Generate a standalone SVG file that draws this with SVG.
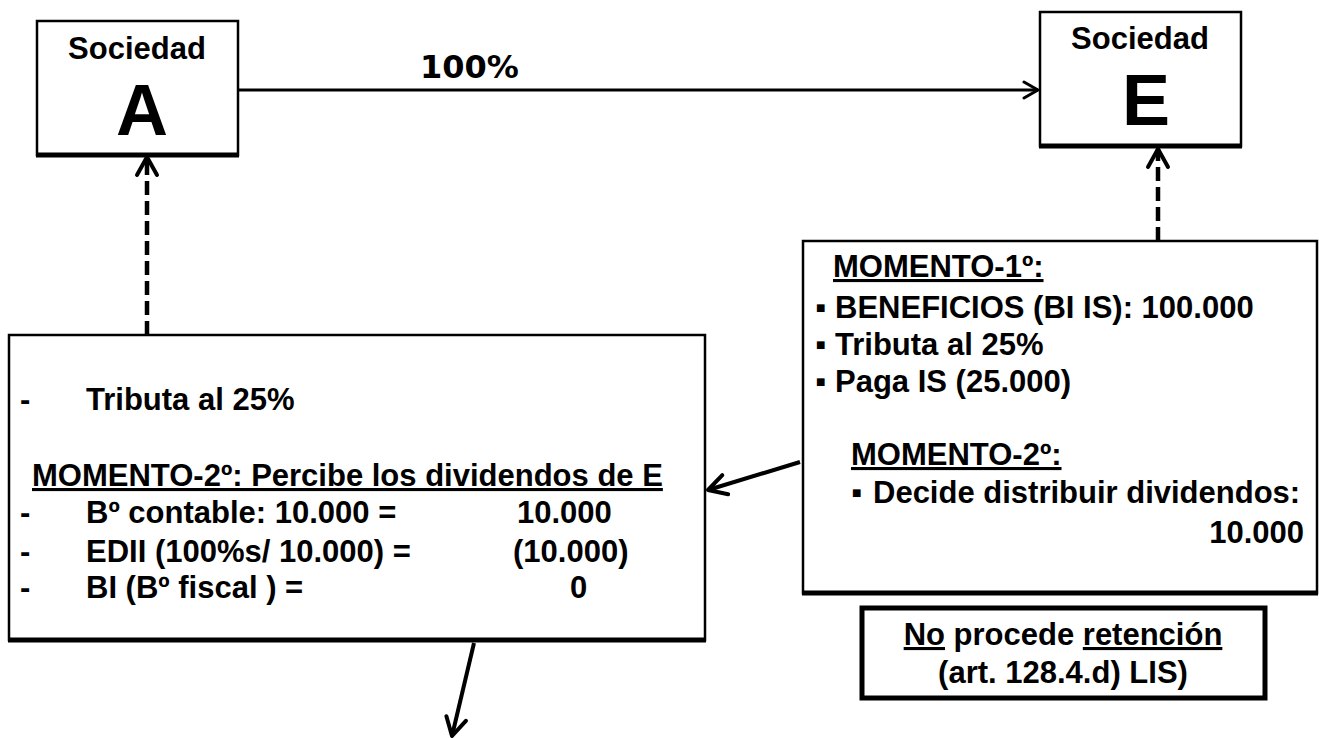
<svg xmlns="http://www.w3.org/2000/svg" width="1319" height="738" viewBox="0 0 1319 738">
<style>
  .box { fill: #fff; stroke: #000; stroke-width: 2.5; }
  .shadow { stroke: #000; stroke-width: 5; }
  .t { font-family: "Liberation Sans", Arial, sans-serif; font-weight: bold; font-size: 31px; fill: #000; }
  .big { font-family: "Liberation Sans", Arial, sans-serif; font-weight: bold; font-size: 72px; fill: #000; }
  .pct { font-family: "DejaVu Sans", Verdana, sans-serif; font-weight: bold; font-size: 32px; fill: #000; }
  .u { text-decoration: underline; }
  .solid { stroke: #000; fill: none; stroke-width: 3; }
  .thick { stroke: #000; fill: none; stroke-width: 4; }
  .dash { stroke: #000; fill: none; stroke-width: 4.5; stroke-dasharray: 14 6; }
</style>
<defs>
  <marker id="chev" markerUnits="userSpaceOnUse" viewBox="0 0 20 20" refX="17" refY="10" markerWidth="20" markerHeight="20" orient="auto">
    <path d="M3,2 L17,10 L3,18" fill="none" stroke="#000" stroke-width="3" stroke-linecap="round" stroke-linejoin="round"/>
  </marker>
  <marker id="chevL" markerUnits="userSpaceOnUse" viewBox="0 0 26 26" refX="22" refY="13" markerWidth="26" markerHeight="26" orient="auto">
    <path d="M4,3 L22,13 L4,23" fill="none" stroke="#000" stroke-width="4" stroke-linecap="round" stroke-linejoin="round"/>
  </marker>
</defs>

<g id="connectors">
  <line class="solid" x1="232" y1="90" x2="1038" y2="90" marker-end="url(#chev)"/>
  <line class="dash" x1="147" y1="335" x2="147" y2="157" marker-end="url(#chevL)"/>
  <line class="dash" x1="1158" y1="241" x2="1158" y2="149" marker-end="url(#chevL)"/>
  <line class="thick" x1="800" y1="462" x2="708" y2="490" marker-end="url(#chevL)"/>
  <line class="thick" x1="474" y1="643" x2="452" y2="736" marker-end="url(#chevL)"/>
  <text class="pct" x="420" y="78">100%</text>
</g>

<g id="nodeA">
  <rect class="box" x="37" y="21" width="201" height="134"/>
  <line class="shadow" x1="36" y1="155" x2="239" y2="155"/>
  <text class="t" x="137" y="59" text-anchor="middle">Sociedad</text>
  <text class="big" x="142" y="135" text-anchor="middle">A</text>
</g>

<g id="nodeE">
  <rect class="box" x="1040" y="12" width="201" height="134"/>
  <line class="shadow" x1="1039" y1="146" x2="1242" y2="146"/>
  <text class="t" x="1140" y="49" text-anchor="middle">Sociedad</text>
  <text class="big" x="1146" y="125" text-anchor="middle">E</text>
</g>

<g id="nodeRight">
  <rect class="box" x="803" y="241" width="514" height="352"/>
  <line class="shadow" x1="802" y1="593" x2="1318" y2="593"/>
  <text class="t u" x="833" y="277">MOMENTO-1º:</text>
  <text class="t" y="318"><tspan x="815">▪</tspan><tspan x="835">BENEFICIOS (BI IS): 100.000</tspan></text>
  <text class="t" y="355"><tspan x="815">▪</tspan><tspan x="835">Tributa al 25%</tspan></text>
  <text class="t" y="392"><tspan x="815">▪</tspan><tspan x="835">Paga IS (25.000)</tspan></text>
  <text class="t u" x="851" y="465">MOMENTO-2º:</text>
  <text class="t" y="503"><tspan x="851">▪</tspan><tspan x="873">Decide distribuir dividendos:</tspan></text>
  <text class="t" x="1304" y="543" text-anchor="end">10.000</text>
</g>

<g id="nodeLeft">
  <rect class="box" x="9" y="335" width="696" height="305"/>
  <line class="shadow" x1="8" y1="640" x2="706" y2="640"/>
  <text class="t" x="20" y="410">-</text>
  <text class="t" x="86" y="410">Tributa al 25%</text>
  <text class="t u" x="32" y="486">MOMENTO-2º: Percibe los dividendos de E</text>
  <text class="t" x="20" y="523">-</text>
  <text class="t" x="86" y="523">Bº contable: 10.000 =</text>
  <text class="t" x="517" y="523">10.000</text>
  <text class="t" x="20" y="562">-</text>
  <text class="t" x="86" y="562">EDII (100%s/ 10.000) =</text>
  <text class="t" x="513" y="562">(10.000)</text>
  <text class="t" x="20" y="598">-</text>
  <text class="t" x="86" y="598">BI (Bº fiscal ) =</text>
  <text class="t" x="570" y="598">0</text>
</g>

<g id="nodeRetencion">
  <rect x="862" y="608" width="403" height="90" fill="#fff" stroke="#000" stroke-width="5"/>
  <text class="t" x="1063" y="645" text-anchor="middle"><tspan class="u">No</tspan> procede <tspan class="u">retención</tspan></text>
  <text class="t" x="1063" y="683" text-anchor="middle">(art. 128.4.d) LIS)</text>
</g>
</svg>
